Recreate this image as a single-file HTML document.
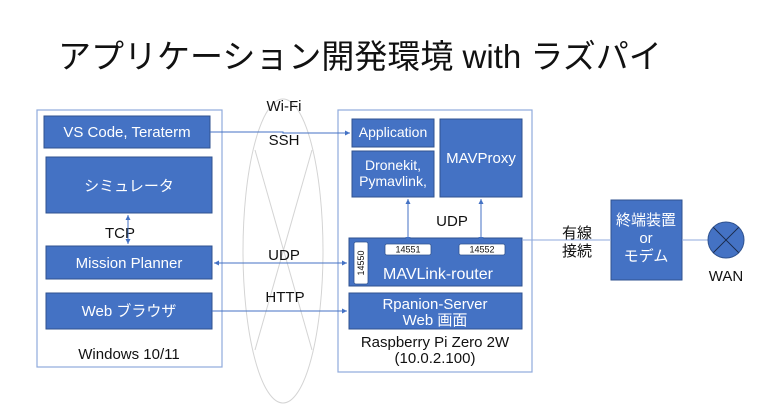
<!DOCTYPE html>
<html><head><meta charset="utf-8"><style>
html,body{margin:0;padding:0;background:#fff;}
svg{display:block;font-family:"Liberation Sans","Noto Sans CJK JP",sans-serif;}
</style></head><body>
<svg width="768" height="408" viewBox="0 0 768 408" xmlns="http://www.w3.org/2000/svg">
<defs>
<marker id="a" markerWidth="6" markerHeight="6" refX="5" refY="3" orient="auto-start-reverse" markerUnits="userSpaceOnUse"><path d="M0,0.5 L5,3 L0,5.5z" fill="#4472c4"/></marker>
</defs>
<text x="58" y="68" font-size="33" fill="#111">アプリケーション開発環境 with ラズパイ</text>

<ellipse cx="283" cy="251" rx="40" ry="152" fill="none" stroke="#d4d4d4" stroke-width="1"/>
<line x1="255" y1="150" x2="312" y2="350" stroke="#d4d4d4"/>
<line x1="312" y1="150" x2="255" y2="350" stroke="#d4d4d4"/>

<rect x="37" y="110" width="185" height="257" fill="#fff" stroke="#8faadc" stroke-width="1.2"/>
<rect x="338" y="110" width="194" height="262" fill="#fff" stroke="#8faadc" stroke-width="1.2"/>

<g fill="#4472c4" stroke="#2f528f" stroke-width="1">
<rect x="44" y="116" width="166" height="32"/>
<rect x="46" y="157" width="166" height="56"/>
<rect x="46" y="246" width="166" height="33"/>
<rect x="46" y="293" width="166" height="36"/>
<rect x="352" y="119" width="82" height="28"/>
<rect x="352" y="151" width="82" height="46"/>
<rect x="440" y="119" width="82" height="78"/>
<rect x="349" y="238" width="173" height="48"/>
<rect x="349" y="293" width="173" height="36"/>
<rect x="611" y="200" width="71" height="80"/>
</g>
<g fill="#fff" stroke="#2f528f" stroke-width="0.8">
<rect x="354" y="242" width="14" height="42" rx="2"/>
<rect x="385" y="244" width="46" height="11" rx="2"/>
<rect x="459" y="244" width="46" height="11" rx="2"/>
</g>
<g font-size="9" fill="#111" text-anchor="middle">
<text x="408" y="252.5">14551</text>
<text x="482" y="252.5">14552</text>
<text transform="translate(364,263) rotate(-90)">14550</text>
</g>

<g fill="#fff" font-size="15" text-anchor="middle">
<text x="127" y="137">VS Code, Teraterm</text>
<text x="129" y="191">シミュレータ</text>
<text x="129" y="268">Mission Planner</text>
<text x="129" y="316">Web ブラウザ</text>
<text x="393" y="137" font-size="14">Application</text>
<text x="393" y="170" font-size="14">Dronekit,</text>
<text x="393" y="186" font-size="14">Pymavlink,</text>
<text x="481" y="163">MAVProxy</text>
<text x="438" y="279" font-size="16">MAVLink-router</text>
<text x="435" y="309">Rpanion-Server</text>
<text x="435" y="325">Web 画面</text>
<text x="646" y="225">終端装置</text>
<text x="646" y="243">or</text>
<text x="646" y="261">モデム</text>
</g>

<g fill="#111" font-size="15" text-anchor="middle">
<text x="129" y="359">Windows 10/11</text>
<text x="435" y="347">Raspberry Pi Zero 2W</text>
<text x="435" y="363">(10.0.2.100)</text>
<text x="120" y="238">TCP</text>
<text x="284" y="111">Wi-Fi</text>
<text x="284" y="145">SSH</text>
<text x="284" y="260">UDP</text>
<text x="285" y="302">HTTP</text>
<text x="452" y="226">UDP</text>
<text x="577" y="238">有線</text>
<text x="577" y="256">接続</text>
<text x="726" y="281">WAN</text>
</g>

<g stroke="#4472c4" stroke-width="1" fill="none">
<line x1="128" y1="215" x2="128" y2="244" marker-start="url(#a)" marker-end="url(#a)"/>
<polyline points="210,132 283,132 283,133 350,133" marker-end="url(#a)"/>
<line x1="214" y1="263" x2="347" y2="263" marker-start="url(#a)" marker-end="url(#a)"/>
<line x1="212" y1="311" x2="347" y2="311" marker-end="url(#a)"/>
<line x1="408" y1="199" x2="408" y2="242" marker-start="url(#a)" marker-end="url(#a)"/>
<line x1="481" y1="199" x2="481" y2="242" marker-start="url(#a)" marker-end="url(#a)"/>
<line x1="522" y1="240" x2="611" y2="240" stroke="#8faadc"/>
<line x1="682" y1="240" x2="708" y2="240" stroke="#8faadc"/>
</g>
<circle cx="726" cy="240" r="18" fill="#4472c4" stroke="#2f528f"/>
<line x1="713.3" y1="227.3" x2="738.7" y2="252.7" stroke="#1a2a4a" stroke-width="1"/>
<line x1="738.7" y1="227.3" x2="713.3" y2="252.7" stroke="#1a2a4a" stroke-width="1"/>
</svg>
</body></html>
